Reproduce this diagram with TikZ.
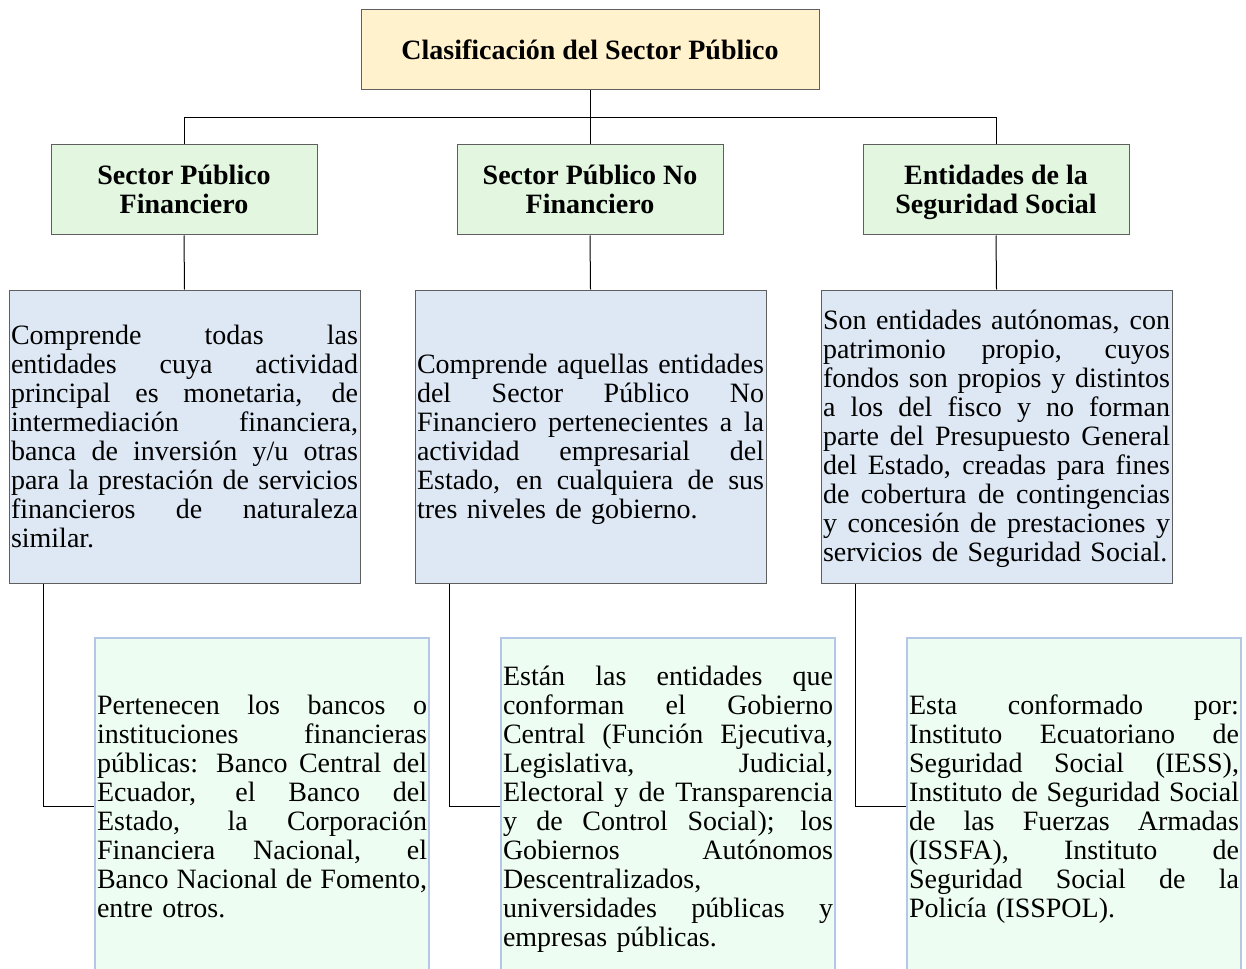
\documentclass[tikz,border=0pt]{standalone}
\usepackage{fontspec}
\setmainfont{Liberation Serif}
\definecolor{titlefill}{HTML}{FFF2CC}
\definecolor{headfill}{HTML}{E2F6E0}
\definecolor{descfill}{HTML}{DEE8F4}
\definecolor{detfill}{HTML}{EEFDF2}
\definecolor{detline}{HTML}{B4C7E7}
\definecolor{boxline}{HTML}{5F5F5F}
\newcommand{\jb}[1]{{\spaceskip=0.25em plus 20em minus 0.05em\xspaceskip=0pt\makebox[347pt][s]{#1}}}
\newcommand{\jd}[1]{{\spaceskip=0.25em plus 20em minus 0.05em\xspaceskip=0pt\makebox[330pt][s]{#1}}}
\newcommand{\topstr}{\rule{0pt}{26pt}}
\newcommand{\botstr}{\rule[-8pt]{0pt}{8pt}}
\tikzset{
  titlebox/.style={draw=boxline, line width=1pt, fill=titlefill, minimum width=458pt, minimum height=80pt, inner sep=0pt, font=\fontsize{28}{29}\selectfont\bfseries},
  headbox/.style={draw=boxline, line width=1pt, fill=headfill, minimum width=266pt, minimum height=90pt, inner sep=0pt, align=center, font=\fontsize{28}{29}\selectfont\bfseries},
  descbox/.style={draw=boxline, line width=1pt, fill=descfill, text width=347pt, inner xsep=2pt, inner ysep=0pt, minimum height=293pt, align=left, font=\fontsize{28}{29}\selectfont},
  detbox/.style={draw=detline, line width=2pt, fill=detfill, text width=330pt, inner xsep=2pt, inner ysep=0pt, minimum height=337pt, align=left, font=\fontsize{28}{29}\selectfont},
  conn/.style={draw=black, line width=1pt}
}
\begin{document}
\begin{tikzpicture}[x=1pt,y=-1pt]
\useasboundingbox (0,0) rectangle (1246,968);
\clip (0,0) rectangle (1246,968);
\node[titlebox] (title) at (590,50) {Clasificación del Sector Público};
\node[headbox] (g1) at (184,190) {\topstr Sector Público\\Financiero\botstr};
\node[headbox] (g2) at (590,190) {\topstr Sector Público No\\Financiero\botstr};
\node[headbox] (g3) at (996,190) {\topstr Entidades de la\\Seguridad Social\botstr};
\node[descbox] (b1) at (184.5,436.5) {\jb{\topstr Comprende todas las}\\\jb{entidades cuya actividad}\\\jb{principal es monetaria, de}\\\jb{intermediación financiera,}\\\jb{banca de inversión y/u otras}\\\jb{para la prestación de servicios}\\\jb{financieros de naturaleza}\\similar.\botstr};
\node[descbox] (b2) at (590.5,436.5) {\jb{\topstr Comprende aquellas entidades}\\\jb{del Sector Público No}\\\jb{Financiero pertenecientes a la}\\\jb{actividad empresarial del}\\\jb{Estado, en cualquiera de sus}\\tres niveles de gobierno.\botstr};
\node[descbox] (b3) at (996.5,436.5) {\jb{\topstr Son entidades autónomas, con}\\\jb{patrimonio propio, cuyos}\\\jb{fondos son propios y distintos}\\\jb{a los del fisco y no forman}\\\jb{parte del Presupuesto General}\\\jb{del Estado, creadas para fines}\\\jb{de cobertura de contingencias}\\\jb{y concesión de prestaciones y}\\servicios de Seguridad Social.\botstr};
\node[detbox] (c1) at (262,806.5) {\jd{\topstr Pertenecen los bancos o}\\\jd{instituciones financieras}\\\jd{públicas: Banco Central del}\\\jd{Ecuador, el Banco del}\\\jd{Estado, la Corporación}\\\jd{Financiera Nacional, el}\\\jd{Banco Nacional de Fomento,}\\entre otros.\botstr};
\node[detbox] (c2) at (668,806.5) {\jd{\topstr Están las entidades que}\\\jd{conforman el Gobierno}\\\jd{Central (Función Ejecutiva,}\\\jd{Legislativa, Judicial,}\\\jd{Electoral y de Transparencia}\\\jd{y de Control Social); los}\\\jd{Gobiernos Autónomos}\\Descentralizados,\\\jd{universidades públicas y}\\empresas públicas.\botstr};
\node[detbox] (c3) at (1074,806.5) {\jd{\topstr Esta conformado por:}\\\jd{Instituto Ecuatoriano de}\\\jd{Seguridad Social (IESS),}\\\jd{Instituto de Seguridad Social}\\\jd{de las Fuerzas Armadas}\\\jd{(ISSFA), Instituto de}\\\jd{Seguridad Social de la}\\Policía (ISSPOL).\botstr};
\draw[conn] (title.south) -- ++(0,27) coordinate (j);
\draw[conn] (g1.north) |- (j) -| (g3.north);
\draw[conn] (j) -- (g2.north);
\draw[conn] (g1.south) -- (b1.north);
\draw[conn] (g2.south) -- (b2.north);
\draw[conn] (g3.south) -- (b3.north);
\draw[conn] ([xshift=35pt]b1.south west) |- (c1.west);
\draw[conn] ([xshift=35pt]b2.south west) |- (c2.west);
\draw[conn] ([xshift=35pt]b3.south west) |- (c3.west);
\end{tikzpicture}
\end{document}
